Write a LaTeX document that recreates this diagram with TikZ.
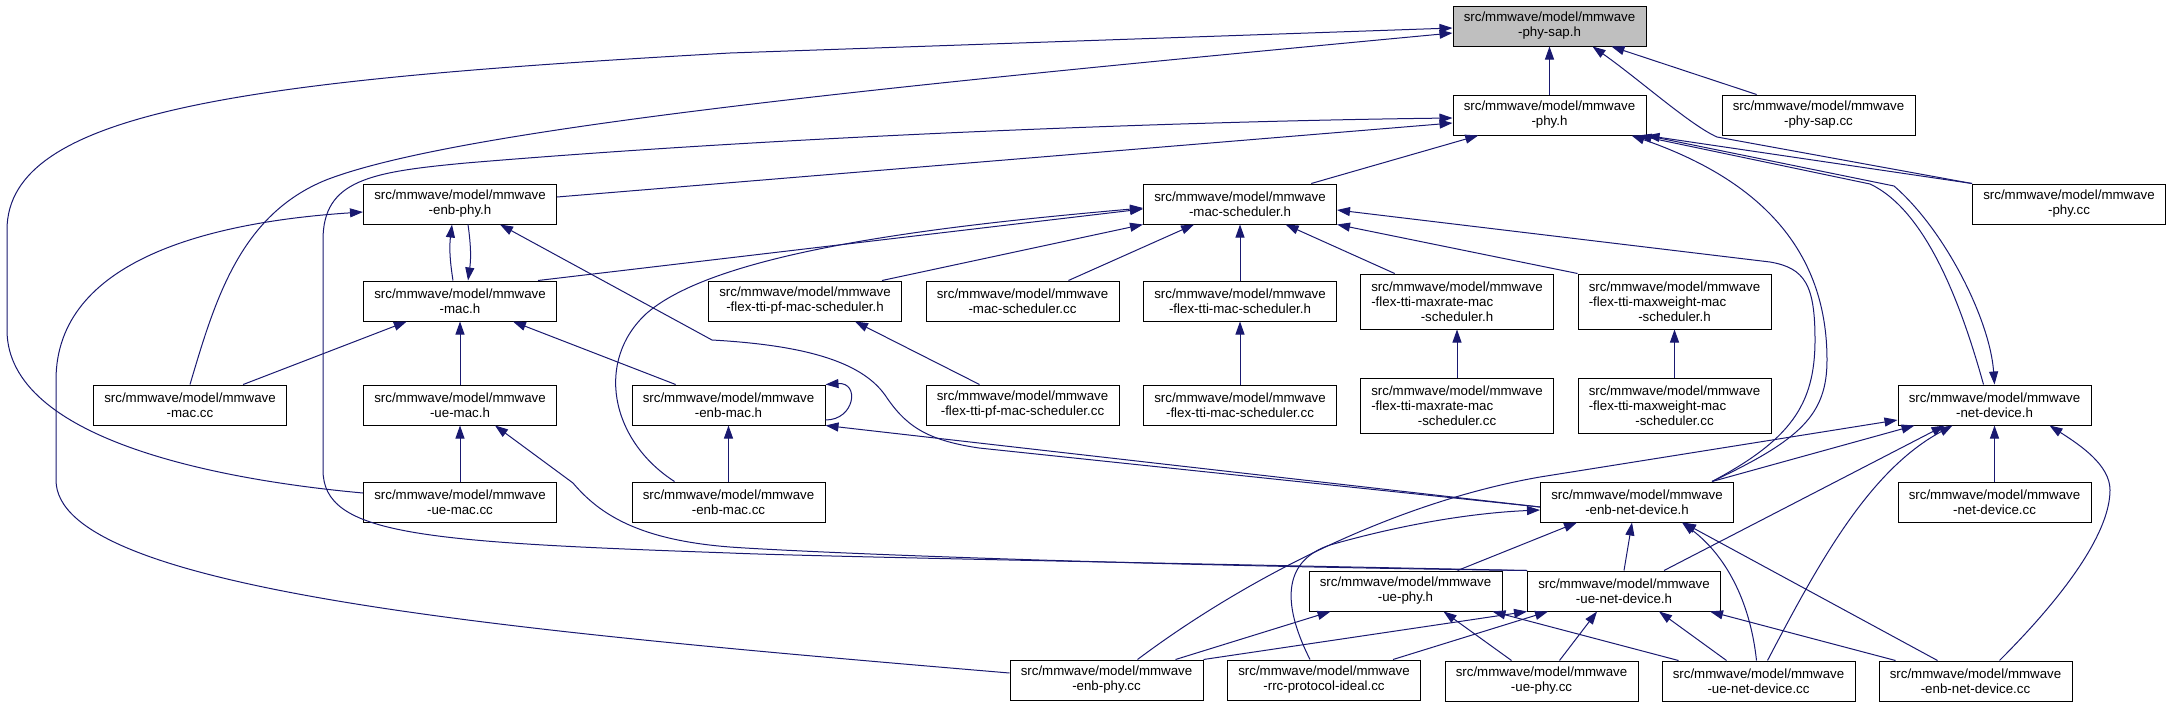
\documentclass[tikz,border=0pt]{standalone}
\usepackage{fontspec}
\newfontfamily\dotfont{Liberation Sans}
\usetikzlibrary{arrows.meta}
\definecolor{edgeblue}{HTML}{191970}
\definecolor{rootgray}{HTML}{BFBFBF}
\tikzset{
  file/.style={draw=black,line width=1pt,fill=white,minimum width=193pt,minimum height=40pt,
    inner sep=0pt,align=center,font=\dotfont\fontsize{13.3}{15}\selectfont},
  tallfile/.style={file,minimum height=55pt},
  rootfile/.style={file,fill=rootgray},
  inc/.style={edgeblue,line width=1pt,-{Triangle[length=13pt,width=9pt]}},
}
\newcommand{\mmw}[1]{src/mmwave/model/mmwave\\#1}
\newcommand{\lline}[1]{\rlap{#1}\phantom{src/mmwave/model/mmwave}}

\begin{document}
\begin{tikzpicture}[x=1pt,y=-1pt]
  \useasboundingbox (0,0) rectangle (2171,707);
  % files
  \node[rootfile] (physaph) at (1549.5,26) {\mmw{-phy-sap.h}};
  \node[file] (phyh) at (1549.5,115) {\mmw{-phy.h}};
  \node[file] (physapcc) at (1818.5,115) {\mmw{-phy-sap.cc}};
  \node[file] (enbphyh) at (460,204) {\mmw{-enb-phy.h}};
  \node[file] (macschedh) at (1240,204) {\mmw{-mac-scheduler.h}};
  \node[file] (phycc) at (2069,204) {\mmw{-phy.cc}};
  \node[file] (mach) at (460,301) {\mmw{-mac.h}};
  \node[file] (flexpfh) at (805,301) {\mmw{-flex-tti-pf-mac-scheduler.h}};
  \node[file] (macschedcc) at (1022.5,301) {\mmw{-mac-scheduler.cc}};
  \node[file] (flexttih) at (1240,301) {\mmw{-flex-tti-mac-scheduler.h}};
  \node[tallfile] (maxrateh) at (1457,301.5) {\mmw{\lline{-flex-tti-maxrate-mac}}\\-scheduler.h};
  \node[tallfile] (maxweighth) at (1674.5,301.5) {\mmw{\lline{-flex-tti-maxweight-mac}}\\-scheduler.h};
  \node[file] (maccc) at (190,405) {\mmw{-mac.cc}};
  \node[file] (uemach) at (460,405) {\mmw{-ue-mac.h}};
  \node[file] (enbmach) at (728.5,405) {\mmw{-enb-mac.h}};
  \node[file] (flexpfcc) at (1022.5,405) {\mmw{-flex-tti-pf-mac-scheduler.cc}};
  \node[file] (flextticc) at (1240,405) {\mmw{-flex-tti-mac-scheduler.cc}};
  \node[tallfile] (maxratecc) at (1457,405.5) {\mmw{\lline{-flex-tti-maxrate-mac}}\\-scheduler.cc};
  \node[tallfile] (maxweightcc) at (1674.5,405.5) {\mmw{\lline{-flex-tti-maxweight-mac}}\\-scheduler.cc};
  \node[file] (netdevh) at (1994.5,405) {\mmw{-net-device.h}};
  \node[file] (uemaccc) at (460,502) {\mmw{-ue-mac.cc}};
  \node[file] (enbmaccc) at (728.5,502) {\mmw{-enb-mac.cc}};
  \node[file] (enbnetdevh) at (1637,502) {\mmw{-enb-net-device.h}};
  \node[file] (netdevcc) at (1994.5,502) {\mmw{-net-device.cc}};
  \node[file] (uephyh) at (1405.5,591) {\mmw{-ue-phy.h}};
  \node[file] (uenetdevh) at (1624,591) {\mmw{-ue-net-device.h}};
  \node[file] (enbphycc) at (1106.5,680) {\mmw{-enb-phy.cc}};
  \node[file] (rrccc) at (1324,680) {\mmw{-rrc-protocol-ideal.cc}};
  \node[file] (uephycc) at (1541.5,681) {\mmw{-ue-phy.cc}};
  \node[file] (uenetdevcc) at (1758.5,681) {\mmw{-ue-net-device.cc}};
  \node[file] (enbnetdevcc) at (1975.5,681) {\mmw{-enb-net-device.cc}};

  % into phy-sap.h
  \draw[inc] (phyh) -- (physaph);
  \draw[inc] (physapcc) -- (physaph);
  \draw[inc] (phycc.north west) -- (1717,137) .. controls (1690,125) and (1640,80) .. ([xshift=43pt]physaph.south);
  \draw[inc] (maccc.north) .. controls (215,300) and (240,215) .. (326,180) .. controls (460,128) and (900,85) .. ([yshift=-7pt]physaph.west);
  \draw[inc] ([yshift=9pt]uemaccc.west) .. controls (220,480) and (7,440) .. (7,330) -- (7,230) .. controls (7,110) and (250,80) .. (730,53) -- ([yshift=-2pt]physaph.west);

  % into phy.h
  \draw[inc] ([yshift=7pt]enbphyh.east) -- ([yshift=-8pt]phyh.west);
  \draw[inc] (uenetdevh.north west) .. controls (1100,562) and (800,556) .. (730,553) .. controls (420,542) and (323,535) .. (323,470) -- (323,240) .. controls (323,180) and (370,172) .. (466,163) .. controls (800,135) and (1200,121) .. ([yshift=-3pt]phyh.west);
  \draw[inc] (macschedh) -- (phyh);
  \draw[inc] ([xshift=75pt]enbnetdevh.north) .. controls (1800,440) and (1827,415) .. (1827,360) .. controls (1827,250) and (1760,180) .. ([xshift=82pt]phyh.south);
  \draw[inc] (phycc.north west) -- (phyh.south east);
  \draw[inc] ([xshift=-11pt]netdevh.north) .. controls (1960,300) and (1925,210) .. (1870,184) -- ([xshift=-8pt]phyh.south east);

  % into enb-phy.h and mac.h
  \draw[inc] ([xshift=-7pt]mach.north) to[bend left=8] ([xshift=-8pt]enbphyh.south);
  \draw[inc] ([xshift=8pt]enbphyh.south) to[bend left=8] ([xshift=8pt]mach.north);
  \draw[inc] ([yshift=7pt]enbphycc.west) .. controls (500,630) and (56,590) .. (56,480) -- (56,380) .. controls (56,260) and (210,222) .. ([yshift=-8pt]enbphyh.west);
  \draw[inc] ([yshift=-5pt]enbnetdevh.west) -- (979,448) .. controls (925,440) and (905,425) .. (885,395) .. controls (860,360) and (800,345) .. (712,340) -- ([xshift=40pt]enbphyh.south);
  \draw[inc] (maccc) -- (mach);
  \draw[inc] (uemach) -- (mach);
  \draw[inc] (enbmach) -- (mach);

  % into mac-scheduler.h
  \draw[inc] ([xshift=78pt]mach.north) -- ([yshift=-5pt]macschedh.west);
  \draw[inc] ([xshift=-54pt]enbmaccc.north) .. controls (610,440) and (595,360) .. (647,313) .. controls (720,250) and (950,225) .. ([yshift=-4pt]macschedh.west);
  \draw[inc] ([xshift=77pt]flexpfh.north) -- (macschedh.south west);
  \draw[inc] (macschedcc) -- (macschedh);
  \draw[inc] (flexttih) -- (macschedh);
  \draw[inc] (maxrateh) -- (macschedh);
  \draw[inc] (maxweighth.north west) -- (macschedh.south east);
  \draw[inc] ([xshift=75pt]enbnetdevh.north) .. controls (1790,440) and (1815,405) .. (1815,340) .. controls (1815,285) and (1805,268) .. (1770,262) -- ([yshift=-6pt]macschedh.east);

  % schedulers
  \draw[inc] ([xshift=-43pt]flexpfcc.north) -- ([xshift=50pt]flexpfh.south);
  \draw[inc] (flextticc) -- (flexttih);
  \draw[inc] (maxratecc) -- (maxrateh);
  \draw[inc] (maxweightcc) -- (maxweighth);

  % ue-mac.h and enb-mac.h
  \draw[inc] (uemaccc) -- (uemach);
  \draw[inc] (uenetdevh.north west) .. controls (1100,565) and (800,552) .. (730,547) .. controls (640,540) and (600,515) .. (573,483) -- ([xshift=35pt]uemach.south);
  \draw[inc] ([yshift=-15pt]enbmach.east) .. controls (855,420) and (860,382) .. (enbmach.north east);
  \draw[inc] (enbmaccc) -- (enbmach);
  \draw[inc] ([yshift=-5pt]enbnetdevh.west) -- (enbmach.south east);

  % into net-device.h
  \draw[inc] (phyh.south east) -- (1894,186) .. controls (1945,230) and (1990,320) .. (netdevh.north);
  \draw[inc] (netdevcc) -- (netdevh);
  \draw[inc] ([xshift=75pt]enbnetdevh.north) -- ([xshift=-80pt]netdevh.south);
  \draw[inc] ([xshift=31pt]enbphycc.north) .. controls (1230,590) and (1380,505) .. (1540,477) -- ([yshift=-15pt]netdevh.west);
  \draw[inc] ([xshift=40pt]uenetdevh.north) -- ([xshift=-50pt]netdevh.south);
  \draw[inc] ([xshift=9pt]uenetdevcc.north) .. controls (1820,560) and (1870,470) .. ([xshift=-42pt]netdevh.south);
  \draw[inc] ([xshift=24pt]enbnetdevcc.north) .. controls (2070,590) and (2110,530) .. (2110,490) .. controls (2110,465) and (2080,445) .. ([xshift=55pt]netdevh.south);

  % into enb-net-device.h
  \draw[inc] ([xshift=-14pt]rrccc.north) .. controls (1280,600) and (1285,560) .. (1330,545) .. controls (1400,525) and (1470,513) .. ([yshift=-8pt]enbnetdevh.west);
  \draw[inc] ([xshift=52pt]uephyh.north) -- ([xshift=-60pt]enbnetdevh.south);
  \draw[inc] (uenetdevh.north) -- ([xshift=-5pt]enbnetdevh.south);
  \draw[inc] ([xshift=-2pt]uenetdevcc.north) .. controls (1750,600) and (1725,555) .. ([xshift=45pt]enbnetdevh.south);
  \draw[inc] ([xshift=-38pt]enbnetdevcc.north) -- ([xshift=46pt]enbnetdevh.south);

  % into ue-net-device.h and ue-phy.h
  \draw[inc] ([xshift=18pt]uephycc.north) -- ([xshift=-27pt]uenetdevh.south);
  \draw[inc] ([xshift=-32pt]uenetdevcc.north) -- ([xshift=35pt]uenetdevh.south);
  \draw[inc] ([xshift=-80pt]enbnetdevcc.north) -- ([xshift=86pt]uenetdevh.south);
  \draw[inc] (enbphycc.north east) -- (uenetdevh.south west);
  \draw[inc] ([xshift=69pt]rrccc.north) -- ([xshift=-76pt]uenetdevh.south);
  \draw[inc] ([xshift=69pt]enbphycc.north) -- ([xshift=-75pt]uephyh.south);
  \draw[inc] ([xshift=-30pt]uephycc.north) -- ([xshift=38pt]uephyh.south);
  \draw[inc] ([xshift=-80pt]uenetdevcc.north) -- ([xshift=87pt]uephyh.south);
\end{tikzpicture}
\end{document}
